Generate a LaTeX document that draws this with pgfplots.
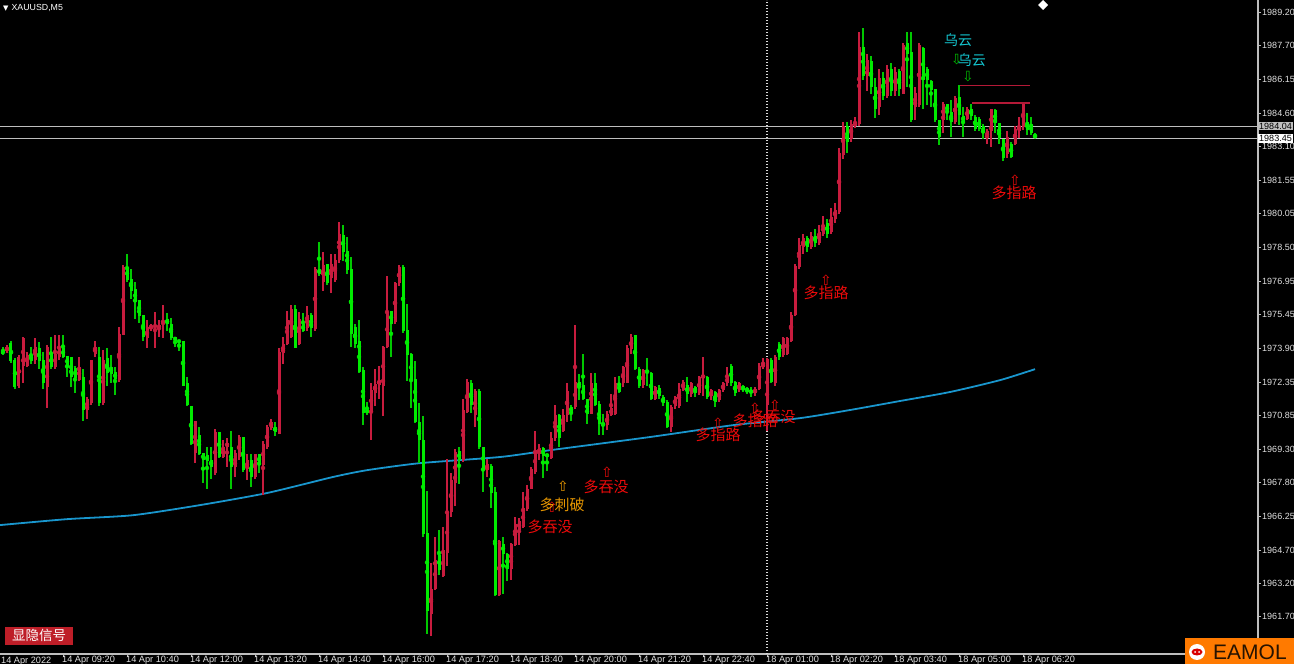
\documentclass[border=0pt]{standalone}
\usepackage{fontspec}
\setmainfont{Liberation Sans}
\newfontfamily\cjk{Noto Sans CJK SC}
\newfontfamily\dejavu{DejaVu Sans}
\usepackage{pgfplots}
\usepackage{pgfplotstable}
\pgfplotsset{compat=1.18}

\definecolor{bull}{RGB}{200,28,62}
\definecolor{bear}{RGB}{0,235,0}
\definecolor{maline}{RGB}{25,150,205}
\definecolor{sigred}{RGB}{235,10,10}
\definecolor{sigorange}{RGB}{230,150,0}
\definecolor{cloud}{RGB}{20,200,210}
\definecolor{resline}{RGB}{180,25,55}
\definecolor{axisgray}{RGB}{190,190,190}
\definecolor{btnred}{RGB}{190,30,40}
\definecolor{logoorange}{RGB}{255,122,0}

% M5 bars, k = bar index (16 bars per time label)
\pgfplotstableread{
k o h l c
0 1975.40 1975.45 1973.75 1973.80
1 1973.80 1973.95 1973.60 1973.65
2 1973.80 1974.05 1973.70 1973.95
3 1974.15 1974.20 1973.20 1973.30
4 1973.35 1973.45 1972.05 1972.15
5 1972.20 1973.60 1972.10 1973.50
6 1973.10 1974.40 1972.30 1974.35
7 1973.10 1973.75 1973.05 1973.60
8 1973.60 1973.95 1973.20 1973.30
9 1973.35 1974.35 1973.20 1973.95
10 1973.90 1974.20 1972.95 1973.30
11 1973.35 1973.75 1972.05 1972.30
12 1972.15 1974.05 1971.20 1973.95
13 1973.65 1974.40 1972.95 1973.05
14 1973.05 1974.50 1972.95 1973.65
15 1973.50 1974.50 1973.35 1973.90
16 1973.90 1974.50 1973.45 1973.50
17 1973.55 1973.55 1972.60 1973.05
18 1973.50 1973.50 1972.15 1972.60
19 1973.00 1973.10 1971.85 1972.55
20 1972.45 1973.50 1972.40 1973.05
21 1972.60 1972.95 1970.60 1971.10
22 1971.10 1971.70 1970.70 1971.60
23 1971.40 1973.35 1971.30 1973.35
24 1973.65 1974.25 1973.50 1973.95
25 1973.50 1973.95 1971.30 1971.40
26 1971.40 1973.80 1971.30 1973.35
27 1973.45 1973.90 1972.20 1972.80
28 1973.05 1973.60 1972.30 1972.75
29 1972.80 1973.05 1971.75 1972.50
30 1972.45 1974.85 1972.35 1974.55
31 1974.50 1977.70 1974.50 1977.60
32 1977.60 1978.20 1976.90 1977.00
33 1977.05 1977.50 1976.15 1976.50
34 1976.60 1976.90 1975.25 1976.00
35 1976.10 1976.10 1975.05 1975.35
36 1975.40 1975.40 1974.25 1974.40
37 1974.35 1975.20 1973.90 1974.85
38 1974.85 1975.00 1974.70 1974.90
39 1974.85 1975.55 1973.90 1974.95
40 1974.80 1975.20 1974.40 1974.95
41 1975.00 1975.85 1974.35 1975.10
42 1975.25 1975.50 1974.70 1975.00
43 1975.00 1975.25 1974.25 1974.35
44 1974.40 1974.40 1973.95 1974.25
45 1974.25 1974.25 1973.80 1974.20
46 1974.25 1974.25 1972.20 1972.20
47 1972.30 1972.60 1971.25 1971.30
48 1971.25 1971.25 1969.50 1969.55
49 1969.10 1970.60 1968.65 1970.60
50 1969.95 1970.30 1969.05 1969.10
51 1969.10 1969.10 1967.75 1968.80
52 1969.05 1969.40 1967.50 1968.75
53 1968.80 1969.40 1967.95 1968.50
54 1968.20 1970.20 1968.10 1970.10
55 1970.10 1970.10 1968.90 1968.95
56 1968.95 1969.70 1968.90 1969.40
57 1969.40 1969.80 1968.50 1969.60
58 1969.40 1970.15 1967.50 1968.50
59 1968.50 1969.25 1968.05 1969.10
60 1968.95 1969.95 1968.80 1969.85
61 1969.85 1969.85 1968.25 1968.35
62 1968.40 1969.10 1967.90 1968.80
63 1968.80 1969.10 1967.60 1968.05
64 1968.05 1969.10 1967.95 1969.10
65 1969.10 1969.10 1968.20 1968.60
66 1968.60 1969.70 1967.20 1969.55
67 1969.40 1970.40 1969.30 1970.30
68 1970.25 1970.70 1970.20 1970.55
69 1970.30 1970.55 1969.90 1970.10
70 1970.00 1973.90 1970.00 1973.75
71 1973.70 1974.40 1973.20 1974.10
72 1974.10 1975.60 1974.05 1975.20
73 1974.40 1975.85 1974.35 1975.70
74 1975.70 1975.85 1973.90 1973.90
75 1974.10 1975.55 1974.05 1975.25
76 1975.00 1975.50 1974.65 1974.70
77 1974.80 1975.80 1974.70 1975.40
78 1975.40 1975.50 1974.40 1974.80
79 1974.80 1977.60 1974.70 1977.50
80 1977.50 1978.75 1977.20 1977.30
81 1976.90 1978.30 1976.50 1977.70
82 1977.75 1977.75 1976.80 1976.85
83 1977.10 1978.20 1976.40 1977.75
84 1977.00 1978.20 1976.90 1977.90
85 1977.90 1979.65 1977.80 1979.10
86 1979.05 1979.50 1977.85 1978.30
87 1978.35 1978.95 1977.30 1977.45
88 1977.50 1978.05 1973.95 1974.55
89 1974.85 1975.00 1973.90 1974.10
90 1974.20 1975.20 1972.75 1972.80
91 1972.90 1973.05 1970.40 1970.95
92 1971.10 1971.45 1970.85 1970.95
93 1971.00 1972.30 1969.70 1972.00
94 1971.85 1972.95 1971.25 1972.30
95 1972.25 1973.10 1971.60 1972.45
96 1972.20 1974.00 1970.80 1973.95
97 1973.95 1977.20 1973.90 1975.55
98 1975.60 1975.60 1973.50 1975.00
99 1975.10 1976.90 1975.00 1976.85
100 1976.85 1977.70 1976.75 1977.60
101 1977.60 1977.70 1974.60 1974.70
102 1974.75 1975.90 1972.40 1973.60
103 1973.65 1973.70 1971.20 1972.40
104 1972.50 1973.30 1970.50 1970.55
105 1970.55 1971.40 1968.65 1969.70
106 1969.70 1970.80 1965.30 1965.45
107 1965.50 1967.40 1960.90 1961.95
108 1961.80 1964.10 1960.80 1962.95
109 1962.95 1965.30 1962.90 1964.25
110 1964.50 1965.60 1963.55 1963.80
111 1963.55 1965.75 1963.50 1964.70
112 1964.55 1968.85 1964.00 1966.45
113 1966.45 1968.20 1966.20 1967.90
114 1967.75 1969.30 1966.70 1969.20
115 1969.20 1969.40 1967.70 1968.80
116 1968.80 1971.60 1968.70 1971.10
117 1971.00 1972.50 1970.95 1972.35
118 1972.30 1972.45 1970.95 1971.30
119 1970.85 1972.05 1970.30 1971.95
120 1971.95 1972.05 1969.30 1969.40
121 1969.40 1969.40 1967.35 1968.35
122 1968.35 1968.85 1968.05 1968.65
123 1968.55 1968.65 1966.65 1967.30
124 1967.35 1967.60 1962.60 1962.65
125 1962.65 1965.15 1962.60 1965.10
126 1965.00 1965.30 1962.70 1964.55
127 1964.55 1964.60 1963.30 1963.85
128 1963.85 1965.05 1963.35 1965.00
129 1964.95 1966.20 1964.90 1965.90
130 1965.60 1966.20 1964.95 1966.05
131 1965.75 1967.35 1965.70 1966.65
132 1966.60 1967.65 1966.50 1967.50
133 1967.50 1968.50 1967.50 1968.40
134 1968.25 1970.15 1968.20 1969.25
135 1969.10 1969.55 1968.80 1969.35
136 1969.35 1969.40 1968.00 1969.00
137 1969.10 1969.10 1968.30 1968.95
138 1968.90 1970.10 1968.85 1969.80
139 1969.80 1971.30 1969.70 1970.85
140 1970.85 1970.90 1969.40 1969.80
141 1970.15 1971.15 1970.10 1970.85
142 1970.85 1972.30 1970.55 1971.95
143 1971.20 1971.30 1970.60 1971.00
144 1971.20 1974.95 1971.15 1972.35
145 1972.35 1972.75 1971.55 1972.15
146 1972.20 1973.65 1971.55 1971.60
147 1971.60 1971.60 1970.45 1970.90
148 1970.90 1972.75 1970.90 1972.30
149 1972.30 1972.75 1971.25 1971.30
150 1971.35 1971.50 1969.95 1970.45
151 1970.50 1970.90 1969.95 1970.40
152 1970.40 1971.05 1970.15 1970.90
153 1970.85 1971.80 1970.80 1971.15
154 1970.90 1972.60 1970.85 1972.30
155 1972.30 1972.65 1971.85 1971.90
156 1972.30 1973.10 1972.15 1973.05
157 1972.30 1974.05 1972.30 1973.90
158 1973.85 1974.55 1973.65 1974.40
159 1974.50 1974.50 1972.90 1972.95
160 1972.95 1973.05 1972.10 1972.20
161 1972.20 1972.95 1972.10 1972.90
162 1972.90 1973.45 1972.20 1972.80
163 1972.75 1972.80 1971.55 1971.60
164 1971.60 1972.20 1971.55 1972.15
165 1972.10 1972.20 1971.60 1971.70
166 1971.70 1971.75 1971.25 1971.40
167 1971.45 1971.55 1970.25 1970.30
168 1970.30 1971.30 1970.10 1971.25
169 1971.25 1971.75 1971.15 1971.70
170 1971.25 1972.30 1971.20 1972.05
171 1972.00 1972.45 1971.95 1972.35
172 1972.20 1972.60 1971.45 1971.80
173 1971.80 1972.35 1971.65 1972.30
174 1972.15 1972.20 1971.70 1971.85
175 1971.85 1972.65 1971.75 1972.60
176 1972.55 1973.50 1971.70 1972.70
177 1972.60 1972.65 1971.60 1971.70
178 1971.70 1972.05 1971.55 1972.00
179 1971.90 1971.95 1971.20 1971.45
180 1971.55 1972.05 1971.45 1972.00
181 1972.00 1972.35 1971.90 1972.30
182 1972.30 1973.05 1972.20 1972.60
183 1973.10 1973.20 1972.20 1972.30
184 1972.35 1972.40 1971.75 1971.85
185 1972.00 1972.35 1971.90 1972.30
186 1972.20 1972.25 1971.90 1972.00
187 1972.10 1972.15 1971.80 1971.90
188 1972.00 1972.15 1971.70 1971.85
189 1971.85 1972.15 1971.75 1972.05
190 1972.05 1973.20 1972.00 1973.10
191 1973.05 1973.45 1972.95 1973.20
192 1971.30 1973.45 1970.15 1973.40
193 1973.35 1973.45 1972.30 1972.35
194 1972.30 1973.60 1972.20 1973.50
195 1974.10 1974.20 1973.35 1973.50
196 1973.60 1974.40 1973.50 1974.35
197 1973.65 1974.40 1973.60 1974.35
198 1974.25 1975.55 1974.20 1975.40
199 1975.40 1977.75 1975.35 1977.65
200 1977.60 1978.90 1977.50 1978.60
201 1978.50 1979.10 1978.20 1978.90
202 1978.90 1979.00 1978.30 1978.50
203 1978.50 1979.20 1978.40 1979.00
204 1979.00 1979.30 1978.50 1978.70
205 1978.70 1979.50 1978.60 1979.20
206 1979.10 1979.90 1979.00 1979.50
207 1979.60 1979.80 1978.90 1979.10
208 1979.20 1980.30 1979.10 1979.90
209 1979.80 1980.50 1979.60 1980.20
210 1980.10 1983.00 1980.00 1982.80
211 1982.70 1984.20 1982.50 1984.00
212 1984.00 1984.20 1982.80 1983.30
213 1983.40 1984.30 1983.30 1984.10
214 1984.00 1984.40 1983.90 1984.20
215 1984.10 1988.30 1984.00 1987.60
216 1987.60 1988.50 1986.10 1986.30
217 1986.30 1987.30 1985.60 1987.00
218 1987.00 1987.20 1985.50 1985.80
219 1985.80 1986.20 1984.40 1984.80
220 1984.90 1986.60 1984.50 1986.20
221 1986.20 1986.50 1985.20 1985.40
222 1985.40 1986.80 1985.30 1986.60
223 1986.60 1986.90 1985.40 1985.60
224 1985.60 1986.70 1985.40 1986.50
225 1986.50 1986.60 1985.40 1985.70
226 1985.50 1987.80 1985.50 1987.70
227 1987.80 1988.30 1985.80 1987.30
228 1987.40 1988.30 1984.20 1984.30
229 1984.90 1985.80 1984.30 1985.50
230 1985.00 1987.80 1984.90 1987.70
231 1987.55 1987.60 1984.80 1986.10
232 1986.60 1986.70 1985.00 1986.10
233 1986.05 1986.10 1984.90 1985.65
234 1985.70 1985.70 1984.20 1984.30
235 1984.30 1984.30 1983.15 1983.50
236 1984.30 1985.10 1983.70 1985.05
237 1985.00 1985.05 1984.30 1984.65
238 1984.65 1985.20 1983.50 1984.20
239 1984.20 1985.40 1984.10 1985.30
240 1985.35 1985.90 1984.05 1984.50
241 1984.50 1984.90 1983.50 1984.20
242 1984.35 1984.90 1984.30 1984.80
243 1984.80 1985.05 1984.30 1984.45
244 1984.45 1984.50 1983.80 1983.90
245 1984.35 1984.40 1983.80 1983.90
246 1984.00 1984.10 1983.45 1983.70
247 1983.50 1983.90 1983.20 1983.80
248 1983.80 1984.80 1983.05 1984.80
249 1984.75 1984.80 1983.70 1984.15
250 1984.15 1984.15 1983.20 1983.45
251 1983.45 1983.45 1982.45 1982.55
252 1982.75 1983.80 1982.55 1983.50
253 1983.20 1983.30 1982.55 1982.60
254 1983.20 1984.00 1983.15 1983.90
255 1983.80 1984.45 1983.50 1984.00
256 1984.00 1985.10 1983.85 1985.05
257 1984.20 1984.60 1983.60 1983.85
258 1984.10 1984.45 1983.60 1983.70
259 1983.60 1983.70 1983.45 1983.50
}\bars

\begin{document}
\begin{tikzpicture}
\path[use as bounding box, fill=black] (0,0) rectangle (1294pt,664pt);
\begin{axis}[
  at={(0pt,10pt)}, anchor=south west,
  scale only axis, width=1258pt, height=654pt,
  xmin=0.25, xmax=314.75, ymin=1959.97, ymax=1989.75,
  axis x line*=bottom, axis y line*=right,
  axis line style={draw=axisgray, line width=1.2pt, -},
  tick align=outside, major tick length=3pt,
  tick style={axisgray, line width=1pt},
  xtick={16,32,...,256},
  xticklabels={14 Apr 09:20,14 Apr 10:40,14 Apr 12:00,14 Apr 13:20,14 Apr 14:40,14 Apr 16:00,14 Apr 17:20,14 Apr 18:40,14 Apr 20:00,14 Apr 21:20,14 Apr 22:40,18 Apr 01:00,18 Apr 02:20,18 Apr 03:40,18 Apr 05:00,18 Apr 06:20},
  xticklabel style={anchor=north west, xshift=-2pt, yshift=2.5pt, inner sep=1pt, font=\fontsize{9.2}{9.5}\selectfont, text=white!88!black},
  ytick={1961.70,1963.20,1964.70,1966.25,1967.80,1969.30,1970.85,1972.35,1973.90,1975.45,1976.95,1978.50,1980.05,1981.55,1983.10,1984.60,1986.15,1987.70,1989.20},
  yticklabels={1961.70,1963.20,1964.70,1966.25,1967.80,1969.30,1970.85,1972.35,1973.90,1975.45,1976.95,1978.50,1980.05,1981.55,1983.10,1984.60,1986.15,1987.70,1989.20},
  yticklabel style={anchor=west, xshift=0pt, inner sep=1pt, font=\fontsize{9}{9}\selectfont, text=white!88!black},
  /pgf/number format/assume math mode=true,
  clip mode=individual,
]
% moving average
\addplot[maline, line width=1.8pt, smooth, tension=0.4] coordinates {
(0.25,1965.84)(17,1966.11)(33.5,1966.29)(50.25,1966.75)(67,1967.30)(83.5,1968.03)
(92,1968.34)(105.25,1968.66)(125.25,1968.94)(137.75,1969.25)(162.75,1969.85)
(183.5,1970.39)(200.25,1970.71)(212.75,1971.08)(225.25,1971.49)(237.75,1971.90)
(250.25,1972.44)(259,1972.94)};
% price lines
\addplot[axisgray, line width=1.3pt] coordinates {(0.25,1984.00)(314.75,1984.00)};
\addplot[axisgray, line width=1.3pt] coordinates {(0.25,1983.45)(314.75,1983.45)};
% weekend separator
\addplot[white!85!black, line width=1.4pt, dash pattern=on 1.4pt off 1.6pt] coordinates {(192,1959.97)(192,1989.75)};
% wicks
\addplot[bull, only marks, mark=none, restrict x to domain=-1:400,
  error bars/.cd, y dir=both, y explicit, error mark=none,
  error bar style={color=bull, line width=1.1pt}]
  table[x expr={\thisrow{c}>=\thisrow{o} ? \thisrow{k} : -100},
        y expr={(\thisrow{h}+\thisrow{l})/2},
        y error expr={max((\thisrow{h}-\thisrow{l})/2,0.02)}]{\bars};
\addplot[bear, only marks, mark=none, restrict x to domain=-1:400,
  error bars/.cd, y dir=both, y explicit, error mark=none,
  error bar style={color=bear!85!black, line width=1.1pt}]
  table[x expr={\thisrow{c}<\thisrow{o} ? \thisrow{k} : -100},
        y expr={(\thisrow{h}+\thisrow{l})/2},
        y error expr={max((\thisrow{h}-\thisrow{l})/2,0.02)}]{\bars};
% bodies
\addplot[bull, only marks, mark=none, restrict x to domain=-1:400,
  error bars/.cd, y dir=both, y explicit, error mark=none,
  error bar style={color=bull, line width=3pt}]
  table[x expr={\thisrow{c}>=\thisrow{o} ? \thisrow{k} : -100},
        y expr={(\thisrow{o}+\thisrow{c})/2},
        y error expr={max(abs(\thisrow{c}-\thisrow{o})/2,0.03)}]{\bars};
\addplot[bear, only marks, mark=none, restrict x to domain=-1:400,
  error bars/.cd, y dir=both, y explicit, error mark=none,
  error bar style={color=bear, line width=3pt}]
  table[x expr={\thisrow{c}<\thisrow{o} ? \thisrow{k} : -100},
        y expr={(\thisrow{o}+\thisrow{c})/2},
        y error expr={max(abs(\thisrow{c}-\thisrow{o})/2,0.03)}]{\bars};
% resistance lines
\addplot[resline, line width=1.3pt] coordinates {(240.25,1985.85)(257.75,1985.85)};
\addplot[resline, line width=1.3pt] coordinates {(243.25,1985.06)(257.75,1985.06)};

% signals
\node[text=cloud, font=\cjk\fontsize{14}{14}\selectfont] at (axis cs:239.75,1987.92) {乌云};
\node[text=bear!80!black, font=\dejavu\fontsize{14}{14}\selectfont] at (axis cs:239.4,1987.05) {⇩};
\node[text=cloud, font=\cjk\fontsize{14}{14}\selectfont] at (axis cs:243.2,1987.01) {乌云};
\node[text=bear!80!black, font=\dejavu\fontsize{14}{14}\selectfont] at (axis cs:242.25,1986.25) {⇩};

\node[text=sigred, font=\dejavu\fontsize{14}{14}\selectfont] at (axis cs:254,1981.55) {⇧};
\node[text=sigred, font=\cjk\fontsize{15}{15}\selectfont] at (axis cs:253.75,1980.96) {多指路};
\node[text=sigred, font=\dejavu\fontsize{14}{14}\selectfont] at (axis cs:206.75,1977.0) {⇧};
\node[text=sigred, font=\cjk\fontsize{15}{15}\selectfont] at (axis cs:206.75,1976.40) {多指路};
\node[text=sigred, font=\dejavu\fontsize{14}{14}\selectfont] at (axis cs:179.75,1970.5) {⇧};
\node[text=sigred, font=\cjk\fontsize{15}{15}\selectfont] at (axis cs:179.75,1969.94) {多指路};
\node[text=sigred, font=\dejavu\fontsize{14}{14}\selectfont] at (axis cs:189,1971.15) {⇧};
\node[text=sigred, font=\cjk\fontsize{15}{15}\selectfont] at (axis cs:189,1970.58) {多指路};
\node[text=sigred, font=\dejavu\fontsize{14}{14}\selectfont] at (axis cs:194,1971.3) {⇧};
\node[text=sigred, font=\cjk\fontsize{15}{15}\selectfont] at (axis cs:193.5,1970.75) {多吞没};
\node[text=sigred, font=\dejavu\fontsize{14}{14}\selectfont] at (axis cs:152,1968.25) {⇧};
\node[text=sigred, font=\cjk\fontsize{15}{15}\selectfont] at (axis cs:151.75,1967.57) {多吞没};
\node[text=sigred, font=\dejavu\fontsize{14}{14}\selectfont] at (axis cs:138.25,1966.65) {⇧};
\node[text=sigorange, font=\dejavu\fontsize{14}{14}\selectfont] at (axis cs:141,1967.6) {⇧};
\node[text=sigorange, font=\cjk\fontsize{15}{15}\selectfont] at (axis cs:140.75,1966.75) {多刺破};
\node[text=sigred, font=\cjk\fontsize{15}{15}\selectfont] at (axis cs:137.75,1965.75) {多吞没};

% current price labels
\node[anchor=west, fill=axisgray, text=black, inner sep=1pt, font=\fontsize{9}{9}\selectfont] at (axis cs:314.75,1984.00) {1984.04};
\node[anchor=west, fill=white, text=black, inner sep=1pt, font=\fontsize{9}{9}\selectfont] at (axis cs:314.75,1983.45) {1983.45};
\end{axis}
\node[anchor=north west, inner sep=1pt, yshift=-1.5pt, text=white!88!black, font=\fontsize{9.2}{9.5}\selectfont] at (0pt,10pt) {14 Apr 2022};
\draw[axisgray, line width=1.2pt] (1258pt,10pt) -- (1294pt,10pt);
% header
\node[anchor=west, text=white, inner sep=0pt, font=\fontsize{8.8}{9}\selectfont] at (3pt,656pt) {{\dejavu\fontsize{7}{7}\selectfont ▼}\hspace{3pt}XAUUSD,M5};
\fill[white] (1043pt,664pt) -- (1048pt,659pt) -- (1043pt,654pt) -- (1038pt,659pt) -- cycle;
% signal toggle button
\node[anchor=south west, fill=btnred, text=white, inner sep=0pt, minimum width=68pt, minimum height=18pt, font=\cjk\fontsize{13.5}{13.5}\selectfont] at (5pt,19pt) {显隐信号};
% logo
\fill[logoorange] (1185pt,0pt) rectangle (1294pt,26pt);
\fill[white] (1197pt,12pt) circle (8pt);
\fill[red!85!black] (1197pt,12pt) ellipse (5.5pt and 3.5pt);
\fill[white] (1195pt,12pt) circle (1pt);
\fill[white] (1199pt,12pt) circle (1pt);
\node[anchor=west, text=black!85!orange, inner sep=0pt, font=\fontsize{21}{21}\selectfont] at (1213pt,12pt) {EAMOL};
\end{tikzpicture}
\end{document}
